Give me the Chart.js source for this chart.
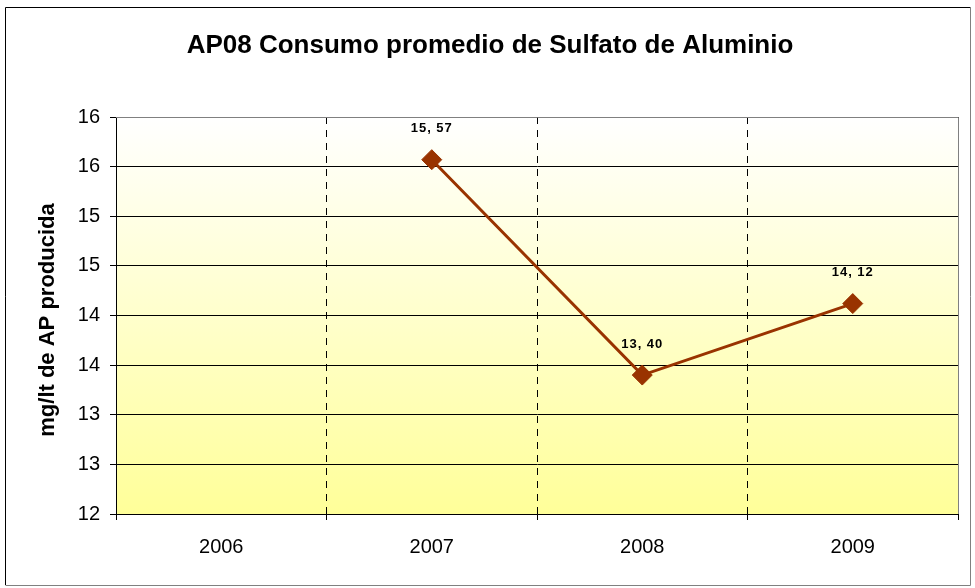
<!DOCTYPE html>
<html>
<head>
<meta charset="utf-8">
<script src="https://cdn.jsdelivr.net/npm/chart.js@4/dist/chart.umd.min.js"></script>
<style>
html,body{margin:0;padding:0;background:#fff;}
#wrap{width:975px;height:588px;position:relative;}
</style>
</head>
<body>
<div id="wrap"><canvas id="c" width="975" height="588"></canvas></div>
<script>
const chartTitle = 'AP08 Consumo promedio de Sulfato de Aluminio';
const yAxisTitle = 'mg/lt de AP producida';
const categories = ['2006', '2007', '2008', '2009'];
const consumo = [null, 15.57, 13.40, 14.12];
const yTickLabels = ['12', '13', '13', '14', '14', '15', '15', '16', '16'];

const FONT = 'Arial, "Liberation Sans", sans-serif';

const decorPlugin = {
  id: 'decor',
  beforeDraw(chart) {
    const {ctx, chartArea: a} = chart;
    ctx.save();
    ctx.fillStyle = '#fff';
    ctx.fillRect(0, 0, chart.width, chart.height);
    const g = ctx.createLinearGradient(0, a.top, 0, a.bottom);
    g.addColorStop(0, '#FFFFFF');
    g.addColorStop(1, '#FFFF99');
    ctx.fillStyle = g;
    ctx.fillRect(a.left, a.top, a.right - a.left, a.bottom - a.top);
    ctx.restore();
  },
  afterDraw(chart) {
    const {ctx, chartArea: a} = chart;
    ctx.save();
    ctx.strokeStyle = '#000';
    ctx.lineWidth = 1;
    ctx.beginPath();
    ctx.moveTo(5.5, 585); ctx.lineTo(5.5, 7.5); ctx.lineTo(970.5, 7.5);
    ctx.stroke();
    ctx.strokeStyle = '#808080';
    ctx.beginPath();
    ctx.moveTo(970.5, 7.5); ctx.lineTo(970.5, 585.5); ctx.lineTo(5.5, 585.5);
    ctx.stroke();
    ctx.strokeStyle = '#808080';
    ctx.beginPath();
    ctx.moveTo(a.left, Math.round(a.top) + 0.5);
    ctx.lineTo(Math.round(a.right) + 0.5, Math.round(a.top) + 0.5);
    ctx.lineTo(Math.round(a.right) + 0.5, a.bottom);
    ctx.stroke();
    ctx.fillStyle = '#000';
    ctx.font = 'bold 26px ' + FONT;
    ctx.textAlign = 'center';
    ctx.textBaseline = 'alphabetic';
    ctx.fillText(chartTitle, 490, 53);
    ctx.translate(48, 320);
    ctx.rotate(-Math.PI / 2);
    ctx.font = 'bold 22px ' + FONT;
    ctx.textBaseline = 'middle';
    ctx.fillText(yAxisTitle, 0, 0);
    ctx.restore();
  },
  afterDatasetsDraw(chart) {
    const {ctx} = chart;
    const meta = chart.getDatasetMeta(0);
    ctx.save();
    ctx.fillStyle = '#000';
    ctx.font = 'bold 13px ' + FONT;
    ctx.textAlign = 'center';
    ctx.textBaseline = 'middle';
    if ('letterSpacing' in ctx) ctx.letterSpacing = '1px';
    meta.data.forEach((pt, i) => {
      const v = consumo[i];
      if (v == null) return;
      const txt = v.toFixed(2).replace('.', ', ');
      ctx.fillText(txt, pt.x, pt.y - 31);
    });
    ctx.restore();
  }
};

new Chart(document.getElementById('c'), {
  type: 'line',
  data: {
    labels: categories,
    datasets: [{
      data: consumo,
      borderColor: '#993300',
      backgroundColor: '#993300',
      borderWidth: 3,
      pointStyle: 'rectRot',
      pointRadius: 10,
      pointBorderWidth: 1,
      pointBorderColor: '#993300',
      pointBackgroundColor: '#993300',
      tension: 0,
      spanGaps: false
    }]
  },
  options: {
    responsive: false,
    animation: false,
    devicePixelRatio: 1,
    layout: {padding: {top: 117, right: 17, left: 0, bottom: 0}},
    plugins: {legend: {display: false}, title: {display: false}, tooltip: {enabled: false}},
    scales: {
      x: {
        type: 'category',
        offset: true,
        grid: {
          offset: true,
          color: '#000',
          lineWidth: 1,
          drawTicks: true,
          tickLength: 6,
          tickColor: '#000'
        },
        border: {display: true, color: '#000', width: 1, dash: [7, 6]},
        ticks: {
          color: '#000',
          font: {family: FONT, size: 20},
          padding: 15,
          maxRotation: 0
        },
        afterFit(s) { s.height = 74; }
      },
      y: {
        min: 12,
        max: 16,
        grid: {
          color: '#000',
          lineWidth: 1,
          drawTicks: true,
          tickLength: 6,
          tickColor: '#000'
        },
        border: {display: true, color: '#000', width: 1},
        ticks: {
          stepSize: 0.5,
          color: '#000',
          font: {family: FONT, size: 20},
          padding: 10,
          callback: (val, idx) => yTickLabels[idx]
        },
        afterFit(s) { s.width = 116; }
      }
    }
  },
  plugins: [decorPlugin]
});
</script>
</body>
</html>
